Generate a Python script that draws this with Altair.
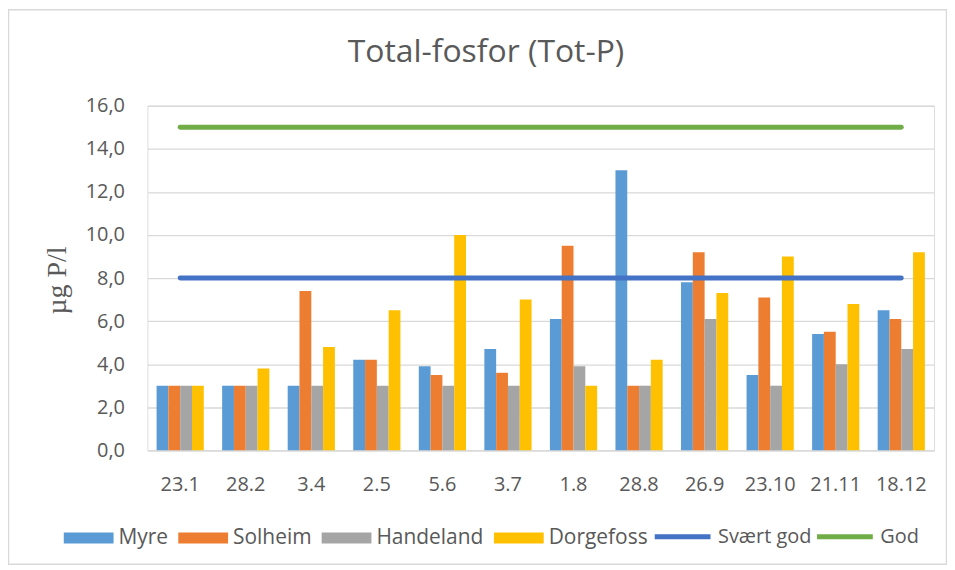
import altair as alt
import pandas as pd

# ---- data ----
dates = ["23.1", "28.2", "3.4", "2.5", "5.6", "3.7", "1.8", "28.8", "26.9", "23.10", "21.11", "18.12"]
stations = ["Myre", "Solheim", "Handeland", "Dorgefoss"]
myre = [3.0, 3.0, 3.0, 4.2, 3.9, 4.7, 6.1, 13.0, 7.8, 3.5, 5.4, 6.5]
solheim = [3.0, 3.0, 7.4, 4.2, 3.5, 3.6, 9.5, 3.0, 9.2, 7.1, 5.5, 6.1]
handeland = [3.0, 3.0, 3.0, 3.0, 3.0, 3.0, 3.9, 3.0, 6.1, 3.0, 4.0, 4.7]
dorgefoss = [3.0, 3.8, 4.8, 6.5, 10.0, 7.0, 3.0, 4.2, 7.3, 9.0, 6.8, 9.2]
classes = ["Svært god", "God"]
svaert_god = [8.0, 8.0, 8.0, 8.0, 8.0, 8.0, 8.0, 8.0, 8.0, 8.0, 8.0, 8.0]
god = [15.0, 15.0, 15.0, 15.0, 15.0, 15.0, 15.0, 15.0, 15.0, 15.0, 15.0, 15.0]
y_ticks = [0, 2, 4, 6, 8, 10, 12, 14, 16]

bar_colors = ["#5B9BD5", "#ED7D31", "#A5A5A5", "#FFC000"]
line_colors = ["#4472C4", "#70AD47"]

bar_df = pd.DataFrame(
    [{"dato": d, "stasjon": s, "verdi": v}
     for s, vals in zip(stations, [myre, solheim, handeland, dorgefoss])
     for d, v in zip(dates, vals)]
)
line_df = pd.DataFrame(
    [{"dato": d, "klasse": c, "verdi": v}
     for c, vals in zip(classes, [svaert_god, god])
     for d, v in zip(dates, vals)]
)

FONT = "Open Sans"
GREY = "#595959"
GRID = "#D9D9D9"

x_enc = alt.X(
    "dato:N", sort=dates,
    scale=alt.Scale(paddingInner=0.28, paddingOuter=0.14),
    axis=alt.Axis(title=None, labelAngle=0, ticks=False, domainColor=GRID,
                  labelPadding=24, labelFont=FONT, labelFontSize=20, labelColor=GREY,
                  grid=False),
)
y_enc = alt.Y(
    "verdi:Q",
    scale=alt.Scale(domain=[0, 16], nice=False),
    axis=alt.Axis(values=y_ticks, labelExpr="replace(format(datum.value, '.1f'), '.', ',')",
                  title="µg P/l", titleFont="Liberation Serif", titleFontSize=28,
                  titleFontWeight="normal", titleColor=GREY, titleAngle=-90,
                  titleX=-82, titleY=175, titleAlign="center", titleBaseline="alphabetic",
                  domain=False, ticks=False, labelPadding=23, labelFont=FONT,
                  labelFontSize=20, labelColor=GREY, gridColor=GRID, gridWidth=1.3),
)

bars = alt.Chart(bar_df).mark_bar().encode(
    x=x_enc,
    xOffset=alt.XOffset("stasjon:N", sort=stations,
                        scale=alt.Scale(domain=stations, paddingInner=0, paddingOuter=0)),
    y=y_enc,
    fill=alt.Fill(
        "stasjon:N", sort=stations,
        scale=alt.Scale(domain=stations, range=bar_colors),
        legend=alt.Legend(title=None, orient="none", direction="horizontal",
                          legendX=-84, legendY=409,
                          symbolType="M-1,-0.22H1V0.22H-1Z", symbolSize=2500,
                          symbolStrokeWidth=0, labelFont=FONT, labelFontSize=21,
                          labelColor=GREY, labelOffset=5, columnPadding=10),
    ),
)

lines = alt.Chart(line_df).mark_line(strokeWidth=5, strokeCap="round").encode(
    x=alt.X("dato:N", sort=dates, title=None),
    y=alt.Y("verdi:Q", title="µg P/l"),
    stroke=alt.Stroke(
        "klasse:N", sort=classes,
        scale=alt.Scale(domain=classes, range=line_colors),
        legend=alt.Legend(title=None, orient="none", direction="horizontal",
                          legendX=507, legendY=402,
                          symbolType="stroke", symbolSize=3136, symbolStrokeWidth=5,
                          labelFont=FONT, labelFontSize=20, labelColor=GREY,
                          labelOffset=5, columnPadding=-5),
    ),
    detail="klasse:N",
)

frame = alt.Chart(pd.DataFrame({"k": [0]})).mark_rect(
    filled=False, stroke=GRID, strokeWidth=1.5
).encode(
    x=alt.value(-139.5), x2=alt.value(802.5), y=alt.value(-96.5), y2=alt.value(460.5)
)

chart = alt.layer(frame, bars, lines).resolve_legend(fill="independent", stroke="independent").properties(
    width=790,
    height=346,
    padding={"left": 140, "top": 97, "right": 13, "bottom": 115},
    autosize=alt.AutoSizeParams(type="none"),
    title=alt.TitleParams("Total-fosfor (Tot-P)", font=FONT, fontSize=32, fontWeight="normal",
                          color=GREY, anchor="middle", dx=-55, dy=116.5, baseline="alphabetic",
                          offset=31),
).configure_view(stroke=None).configure(background="white")

chart.save("out.html", embed_options={"renderer": "svg", "actions": False})
